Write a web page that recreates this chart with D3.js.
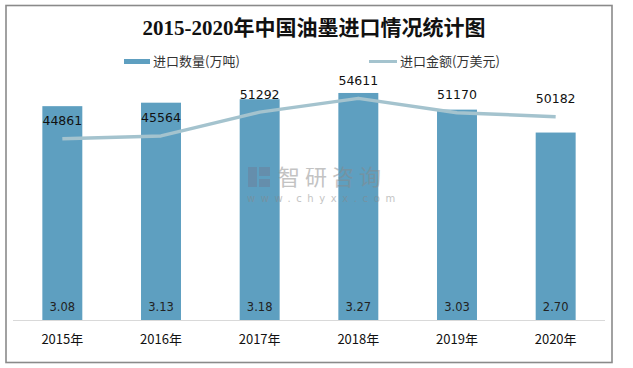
<!DOCTYPE html>
<html><head><meta charset="utf-8">
<script src="https://cdn.jsdelivr.net/npm/d3@7/dist/d3.min.js"></script>
<style>body{margin:0;background:#fff}svg{display:block}</style>
</head><body>
<svg id="c" width="633" height="368"></svg>
<script>
const title = "2015-2020年中国油墨进口情况统计图";
const years = ["2015年","2016年","2017年","2018年","2019年","2020年"];
const quantity = [3.08, 3.13, 3.18, 3.27, 3.03, 2.70];
const amount = [44861, 45564, 51292, 54611, 51170, 50182];
const quantityLabels = ["3.08","3.13","3.18","3.27","3.03","2.70"];
const seriesNames = ["进口数量(万吨)", "进口金额(万美元)"];

const svg = d3.select("#c");
const barColor = "#5e9fc0", lineColor = "#a4c3ce";
const plotL = 13, plotR = 605, plotB = 320;

svg.append("rect").attr("x",6).attr("y",5.5).attr("width",606).attr("height",357)
  .attr("fill","#fff").attr("stroke","#8a8a8a").attr("stroke-width",1.6);

svg.append("text").attr("x",314).attr("y",35).attr("text-anchor","middle")
  .attr("font-family","'Liberation Serif','Noto Sans CJK SC',serif").attr("font-weight","bold")
  .attr("font-size",21).attr("fill","#111").text(title);

// legend
const lg = svg.append("g").attr("font-family","'Noto Sans CJK SC',sans-serif").attr("font-size",13).attr("fill","#333");
lg.append("rect").attr("x",124).attr("y",59).attr("width",26).attr("height",5).attr("fill",barColor);
lg.append("text").attr("x",153).attr("y",62).attr("dominant-baseline","middle").text(seriesNames[0]);
lg.append("rect").attr("x",369).attr("y",60).attr("width",28).attr("height",3).attr("fill",lineColor);
lg.append("text").attr("x",400).attr("y",62).attr("dominant-baseline","middle").text(seriesNames[1]);

const x = d3.scaleBand().domain(years).range([plotL, plotR]).paddingInner(0.595).paddingOuter(0.2975);
const yBar = d3.scaleLinear().domain([0, 3.5]).range([plotB, 77]);
const yLine = d3.scaleLinear().domain([0, 60000]).range([325, 76]);

svg.append("g").selectAll("rect").data(quantity).join("rect")
  .attr("x",(d,i)=>x(years[i])).attr("width",x.bandwidth())
  .attr("y",d=>yBar(d)).attr("height",d=>plotB-yBar(d)).attr("fill",barColor);

// watermark
const wm = svg.append("g").attr("opacity",0.5);
wm.append("rect").attr("x",248).attr("y",167).attr("width",9).attr("height",20).attr("fill","#6d7f99");
wm.append("rect").attr("x",259).attr("y",167).attr("width",11).attr("height",9).attr("fill","#6d7f99");
wm.append("rect").attr("x",259).attr("y",179).attr("width",11).attr("height",8).attr("fill","#6d7f99");
wm.append("text").attr("x",278).attr("y",185).attr("font-family","'Noto Sans CJK SC',sans-serif")
  .attr("font-size",22).attr("letter-spacing",5).attr("fill","#888").text("智研咨询");
wm.append("text").attr("x",247).attr("y",202).attr("font-family","'DejaVu Sans',sans-serif")
  .attr("font-size",10).attr("letter-spacing",5.6).attr("fill","#888").text("www.chyxx.com");

// x axis
svg.append("line").attr("x1",plotL).attr("x2",plotR).attr("y1",plotB+0.5).attr("y2",plotB+0.5)
  .attr("stroke","#d9d9d9").attr("stroke-width",1);
const xAxis = svg.append("g").attr("transform",`translate(0,${plotB})`)
  .call(d3.axisBottom(x).tickSize(0).tickPadding(15));
xAxis.select(".domain").remove();
xAxis.selectAll("text").attr("font-family","'Noto Sans CJK SC',sans-serif").attr("font-size",13).attr("fill","#111");

// bar labels
svg.append("g").selectAll("text").data(quantity).join("text")
  .attr("x",(d,i)=>x(years[i])+x.bandwidth()/2).attr("y",plotB-13)
  .attr("text-anchor","middle").attr("dominant-baseline","middle")
  .attr("font-family","'DejaVu Sans',sans-serif").attr("font-size",11.5).attr("fill","#222")
  .text((d,i)=>quantityLabels[i]);

// line
const line = d3.line().x((d,i)=>x(years[i])+x.bandwidth()/2).y(d=>yLine(d));
svg.append("path").datum(amount).attr("d",line).attr("fill","none")
  .attr("stroke",lineColor).attr("stroke-width",3.5).attr("stroke-linejoin","round");

svg.append("g").selectAll("text").data(amount).join("text")
  .attr("x",(d,i)=>x(years[i])+x.bandwidth()/2).attr("y",d=>yLine(d)-17)
  .attr("text-anchor","middle").attr("dominant-baseline","middle")
  .attr("font-family","'DejaVu Sans',sans-serif").attr("font-size",12.5).attr("fill","#111")
  .text(d=>d);
</script>
</body></html>
